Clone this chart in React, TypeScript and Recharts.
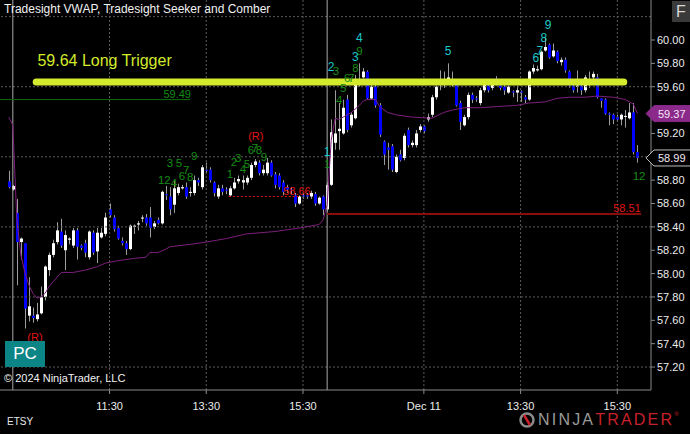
import React from 'react';
import {
  ComposedChart,
  Bar,
  Line,
  Scatter,
  XAxis,
  YAxis,
  ReferenceLine,
  ReferenceDot,
} from 'recharts';

// 5-minute ETSY candles: [open, high, low, close]
type Candle = [number, number, number, number];

const dec9Close: Candle[] = [[58.79, 58.88, 58.73, 58.74]];

const dec10: Candle[] = [
  [58.72, 58.76, 58.71, 58.75], [58.52, 58.64, 57.90, 58.27], [58.27, 58.31, 58.12, 58.30], [58.26, 58.26, 57.53, 57.70],
  [57.64, 57.97, 57.59, 57.72], [57.64, 57.71, 57.58, 57.62], [57.61, 57.75, 57.59, 57.65], [57.66, 57.89, 57.65, 57.80],
  [57.80, 58.07, 57.77, 58.06], [58.03, 58.18, 57.98, 58.16], [58.16, 58.29, 58.14, 58.26], [58.27, 58.44, 58.25, 58.37],
  [58.36, 58.47, 58.22, 58.24], [58.20, 58.37, 58.03, 58.33], [58.29, 58.31, 58.25, 58.30], [58.24, 58.39, 58.22, 58.37],
  [58.37, 58.39, 58.12, 58.23], [58.24, 58.25, 58.20, 58.22], [58.26, 58.29, 58.14, 58.18], [58.14, 58.37, 58.12, 58.36],
  [58.35, 58.37, 58.16, 58.18], [58.19, 58.39, 58.09, 58.35], [58.31, 58.39, 58.30, 58.35], [58.34, 58.52, 58.32, 58.48],
  [58.55, 58.60, 58.48, 58.50], [58.48, 58.50, 58.36, 58.38], [58.39, 58.41, 58.29, 58.30], [58.28, 58.31, 58.24, 58.26],
  [58.26, 58.28, 58.16, 58.21], [58.21, 58.42, 58.20, 58.41], [58.41, 58.42, 58.34, 58.41], [58.42, 58.45, 58.37, 58.43],
  [58.48, 58.50, 58.44, 58.48], [58.48, 58.51, 58.41, 58.43], [58.48, 58.57, 58.31, 58.39], [58.40, 58.45, 58.38, 58.43],
  [58.46, 58.48, 58.42, 58.43], [58.43, 58.71, 58.42, 58.70], [58.68, 58.75, 58.63, 58.67], [58.66, 58.74, 58.50, 58.55],
  [58.59, 58.80, 58.52, 58.73], [58.69, 58.77, 58.67, 58.74], [58.73, 58.76, 58.72, 58.74], [58.74, 58.78, 58.64, 58.66],
  [58.69, 58.74, 58.66, 58.70], [58.69, 58.84, 58.67, 58.80], [58.80, 58.82, 58.75, 58.78], [58.74, 58.93, 58.72, 58.91],
  [58.89, 58.95, 58.86, 58.88], [58.89, 58.91, 58.78, 58.80], [58.78, 58.79, 58.66, 58.69], [58.66, 58.76, 58.64, 58.73],
  [58.73, 58.76, 58.67, 58.70], [58.72, 58.74, 58.68, 58.71], [58.67, 58.75, 58.66, 58.73], [58.73, 58.82, 58.72, 58.78],
  [58.79, 58.84, 58.77, 58.81], [58.78, 58.84, 58.72, 58.80], [58.78, 58.84, 58.76, 58.82], [58.82, 58.95, 58.80, 58.93],
  [58.93, 58.98, 58.91, 58.96], [58.95, 58.97, 58.84, 58.86], [58.86, 58.93, 58.84, 58.89], [58.86, 58.99, 58.84, 58.95],
  [58.95, 58.97, 58.83, 58.84], [58.85, 58.87, 58.73, 58.76], [58.84, 58.86, 58.72, 58.74], [58.78, 58.80, 58.67, 58.70],
  [58.74, 58.76, 58.69, 58.72], [58.72, 58.74, 58.68, 58.71], [58.67, 58.69, 58.57, 58.60], [58.60, 58.67, 58.59, 58.66],
  [58.67, 58.69, 58.64, 58.66], [58.67, 58.69, 58.64, 58.66], [58.66, 58.71, 58.64, 58.69], [58.68, 58.70, 58.58, 58.60],
  [58.60, 58.66, 58.59, 58.65], [58.66, 58.67, 58.50, 58.55],
];

const dec11: Candle[] = [
  [58.55, 58.78, 58.53, 58.76], [58.76, 59.32, 58.75, 59.21], [59.12, 59.57, 59.06, 59.20], [59.22, 59.46, 59.06, 59.24],
  [59.20, 59.49, 59.19, 59.42], [59.49, 59.53, 59.21, 59.23], [59.27, 59.38, 59.25, 59.36], [59.33, 59.70, 59.32, 59.62],
  [59.62, 59.80, 59.60, 59.64], [59.68, 59.76, 59.67, 59.73], [59.73, 59.74, 59.49, 59.50], [59.50, 59.62, 59.49, 59.60],
  [59.60, 59.62, 59.42, 59.44], [59.44, 59.46, 59.17, 59.19], [59.13, 59.14, 58.93, 59.02], [59.08, 59.12, 58.89, 59.06],
  [59.09, 59.11, 58.87, 58.89], [58.87, 59.02, 58.86, 59.00], [59.02, 59.06, 58.96, 58.97], [58.99, 59.20, 58.97, 59.18],
  [59.23, 59.25, 59.08, 59.10], [59.10, 59.14, 59.08, 59.12], [59.10, 59.23, 59.08, 59.20], [59.23, 59.28, 59.21, 59.26],
  [59.26, 59.27, 59.20, 59.22], [59.32, 59.37, 59.30, 59.34], [59.36, 59.53, 59.34, 59.51], [59.51, 59.61, 59.49, 59.60],
  [59.63, 59.74, 59.57, 59.64], [59.64, 59.73, 59.59, 59.63], [59.64, 59.80, 59.62, 59.68], [59.64, 59.73, 59.60, 59.63],
  [59.64, 59.66, 59.43, 59.44], [59.46, 59.48, 59.23, 59.30], [59.27, 59.36, 59.26, 59.34], [59.34, 59.55, 59.32, 59.53],
  [59.53, 59.55, 59.46, 59.49], [59.50, 59.52, 59.47, 59.49], [59.46, 59.59, 59.44, 59.57], [59.57, 59.66, 59.55, 59.63],
  [59.61, 59.66, 59.55, 59.57], [59.59, 59.66, 59.57, 59.63], [59.67, 59.69, 59.61, 59.63], [59.61, 59.63, 59.57, 59.59],
  [59.60, 59.62, 59.53, 59.57], [59.55, 59.61, 59.54, 59.60], [59.56, 59.57, 59.51, 59.55], [59.55, 59.61, 59.47, 59.57],
  [59.56, 59.57, 59.47, 59.55], [59.51, 59.53, 59.46, 59.49], [59.49, 59.74, 59.48, 59.73], [59.73, 59.79, 59.71, 59.76],
  [59.74, 59.78, 59.73, 59.75], [59.75, 59.91, 59.74, 59.90], [59.91, 60.02, 59.90, 59.94], [59.96, 59.97, 59.84, 59.85],
  [59.86, 59.97, 59.85, 59.91], [59.90, 59.91, 59.80, 59.82], [59.81, 59.85, 59.78, 59.83], [59.83, 59.85, 59.72, 59.74],
  [59.73, 59.74, 59.59, 59.61], [59.61, 59.63, 59.55, 59.57], [59.60, 59.74, 59.55, 59.61], [59.61, 59.63, 59.53, 59.57],
  [59.57, 59.70, 59.55, 59.68], [59.63, 59.73, 59.59, 59.65], [59.68, 59.73, 59.66, 59.71], [59.68, 59.71, 59.50, 59.51],
  [59.50, 59.50, 59.42, 59.48], [59.49, 59.50, 59.36, 59.37], [59.37, 59.38, 59.27, 59.36], [59.36, 59.37, 59.28, 59.32],
  [59.34, 59.36, 59.30, 59.32], [59.32, 59.37, 59.27, 59.36], [59.35, 59.40, 59.25, 59.35], [59.33, 59.46, 59.32, 59.38],
  [59.38, 59.46, 59.02, 59.04], [59.04, 59.10, 58.95, 58.99],
];

// Tradesight VWAP read at [bar, price]
const vwapPoints: [number, number][] = [
  [0, 59.34], [1, 59.27], [2, 58.46], [3, 58.16], [4, 58.01], [5, 57.9], [6, 57.83], [7, 57.79], [8, 57.8],
  [9, 57.83], [10, 57.89], [11, 57.93], [12, 57.97], [13, 58.01], [16, 58.01], [19, 58.03], [22, 58.06],
  [24, 58.09], [27, 58.11], [31, 58.13], [34, 58.14], [35, 58.18], [37, 58.18], [39, 58.21], [40, 58.23],
  [45, 58.25], [49, 58.27], [54, 58.3], [59, 58.34], [66, 58.36], [72, 58.39], [77, 58.42], [78, 58.46],
  [79, 58.59], [80, 59.14], [81, 59.33], [82, 59.32], [83, 59.34], [85, 59.38], [87, 59.44], [88, 59.48],
  [89, 59.49], [91, 59.49], [92, 59.43], [94, 59.38], [96, 59.36], [100, 59.34], [105, 59.33], [108, 59.38],
  [110, 59.4], [113, 59.42], [117, 59.42], [121, 59.43], [126, 59.44], [129, 59.46], [133, 59.47], [136, 59.5],
  [139, 59.51], [143, 59.51], [146, 59.52], [150, 59.51], [153, 59.49], [155, 59.45], [156, 59.37],
];

const timeTicks = [25, 49, 73, 103, 127, 151];
const timeLabels = ['11:30', '13:30', '15:30', 'Dec 11', '13:30', '15:30'];
const priceTicks = [57.2, 57.4, 57.6, 57.8, 58.0, 58.2, 58.4, 58.6, 58.8, 59.0, 59.2, 59.4, 59.6, 59.8, 60.0];
const gridPrices = [57.2, 57.8, 58.4, 59.0, 59.6, 60.2];
const sessionStarts = [1, 79];

const longTrigger = 59.64;
const priorVwap = 59.49;
const comberStop = 58.66;
const support = 58.51;

const seekerCounts = [
  { i: 38.6, price: 58.8, text: '12' }, { i: 40.0, price: 58.95, text: '3' }, { i: 42.2, price: 58.95, text: '5' },
  { i: 41.0, price: 58.78, text: '4' }, { i: 43.0, price: 58.84, text: '6' }, { i: 44.0, price: 58.89, text: '7' },
  { i: 45.0, price: 58.83, text: '8' }, { i: 46.0, price: 59.01, text: '9' }, { i: 54.9, price: 58.85, text: '1' },
  { i: 55.9, price: 58.96, text: '2' }, { i: 56.9, price: 58.99, text: '3' }, { i: 58.1, price: 58.9, text: '4' },
  { i: 59.1, price: 58.94, text: '5' }, { i: 60.1, price: 59.06, text: '6' }, { i: 61.1, price: 59.08, text: '7' },
  { i: 62.1, price: 59.06, text: '8' }, { i: 63.3, price: 59.0, text: '9' }, { i: 79.0, price: 58.94, text: '1' },
  { i: 81.2, price: 59.74, text: '3' }, { i: 82.0, price: 59.49, text: '4' }, { i: 83.0, price: 59.59, text: '5' },
  { i: 84.0, price: 59.68, text: '6' }, { i: 85.0, price: 59.68, text: '7' }, { i: 86.0, price: 59.76, text: '8' },
  { i: 87.0, price: 59.91, text: '9' }, { i: 156.4, price: 58.84, text: '12' },
];

const comberCounts = [
  { i: 79.0, price: 59.04, text: '1' }, { i: 80.0, price: 59.77, text: '2' }, { i: 86.0, price: 59.86, text: '3' },
  { i: 87.0, price: 60.02, text: '4' }, { i: 109.0, price: 59.91, text: '5' }, { i: 130.8, price: 59.85, text: '6' },
  { i: 131.8, price: 59.91, text: '7' }, { i: 132.8, price: 60.02, text: '8' }, { i: 133.8, price: 60.13, text: '9' },
];

const redMarks = [
  { i: 61.3, price: 59.18, text: '(R)' },
  { i: 6.5, price: 57.46, text: '(R)' },
  { i: 71.5, price: 58.71, text: comberStop.toFixed(2) },
];

const triggerLabel = [{ i: 7.1, price: 59.83, text: `${longTrigger.toFixed(2)} Long Trigger` }];
const priorVwapLabel = [{ i: 45.2, price: 59.54, text: priorVwap.toFixed(2) }];
const supportLabel = [{ i: 156.8, price: 58.56, text: support.toFixed(2) }];

const candles = [...dec9Close, ...dec10, ...dec11];
const vwapAt = new Map(vwapPoints);
const rows = candles.map(([open, high, low, close], i) => ({
  i,
  open,
  high,
  low,
  close,
  range: [low, high],
  vwap: vwapAt.has(i) ? vwapAt.get(i) : null,
}));

const lastClose = candles[candles.length - 1][3];
const lastVwap = vwapPoints[vwapPoints.length - 1][1];
const tagPrices = [lastClose, lastVwap];

const FONT = '"Liberation Sans", Arial, sans-serif';
const X_MIN = -2.18;
const X_MAX = 159.36;

const CandleShape = (props: any) => {
  const { x, y, width, height, payload } = props;
  const { open, close, high, low } = payload;
  const top = Math.min(y, y + height);
  const h = Math.abs(height);
  const per = high - low > 0 ? h / (high - low) : 0;
  const yOf = (p: number) => top + (high - p) * per;
  const cx = Math.round(x + width / 2);
  const up = close >= open;
  const bTop = yOf(Math.max(open, close));
  const bH = Math.max(1, yOf(Math.min(open, close)) - bTop);
  return (
    <g>
      <line x1={cx + 0.5} x2={cx + 0.5} y1={top} y2={top + h} stroke="#9c9c9c" strokeWidth={1} />
      <rect x={cx - 1} y={bTop} width={3} height={bH} fill={up ? '#ffffff' : '#0000ff'} />
    </g>
  );
};

const textShape = (fill: string, size: number, anchor: 'start' | 'middle' | 'end') => (props: any) => {
  const { cx, cy, payload } = props;
  return (
    <text x={cx} y={cy + size * 0.36} fill={fill} fontSize={size} fontFamily={FONT} textAnchor={anchor}>
      {payload.text}
    </text>
  );
};

const priceTag = (fill: string, border: string, value: number) => (props: any) => {
  const { cx, cy } = props;
  const pts = `${cx - 5},${cy} ${cx + 3},${cy - 8} ${cx + 40},${cy - 8} ${cx + 40},${cy + 8} ${cx + 3},${cy + 8}`;
  return (
    <g>
      <polygon points={pts} fill={fill} stroke={border} strokeWidth={1} />
      <text x={cx + 7} y={cy + 4} fill="#f4e8f4" fontSize={11} fontFamily={FONT}>
        {value.toFixed(2)}
      </text>
    </g>
  );
};

export default function App() {
  return (
    <div style={{ position: 'absolute', left: 0, top: 0, width: 690, height: 434, background: '#000', overflow: 'hidden' }}>
      <ComposedChart width={690} height={434} data={rows} margin={{ top: 0, right: 0, bottom: 0, left: 0 }}>
        <XAxis
          dataKey="i"
          type="number"
          domain={[X_MIN, X_MAX]}
          allowDataOverflow
          ticks={timeTicks}
          tickFormatter={(v) => timeLabels[timeTicks.indexOf(v)] ?? ''}
          height={44}
          tickSize={4}
          tickMargin={8}
          stroke="#8a8a8a"
          tick={{ fill: '#ececec', fontSize: 11, fontFamily: FONT }}
        />
        <YAxis
          orientation="right"
          type="number"
          domain={[57.0034, 60.3425]}
          allowDataOverflow
          ticks={priceTicks}
          tickFormatter={(v) =>
            tagPrices.some((t) => Math.abs(t - Number(v)) < 0.06) ? '' : Number(v).toFixed(2)
          }
          width={39}
          tickSize={4}
          tickMargin={2}
          stroke="#8a8a8a"
          tick={{ fill: '#ececec', fontSize: 11, fontFamily: FONT }}
        />

        {gridPrices.map((p) => (
          <ReferenceLine key={`gy${p}`} y={p} stroke="#5c5c5c" strokeDasharray="2 2" />
        ))}
        {timeTicks.map((t) => (
          <ReferenceLine key={`gx${t}`} x={t} stroke="#5c5c5c" strokeDasharray="2 2" />
        ))}
        {sessionStarts.map((s) => (
          <ReferenceLine key={`s${s}`} x={s} stroke="#a8a8a8" />
        ))}

        <ReferenceLine segment={[{ x: X_MIN, y: priorVwap }, { x: 45.0, y: priorVwap }]} stroke="#0c6a0c" />
        <ReferenceLine
          segment={[{ x: 54.6, y: comberStop }, { x: 72.3, y: comberStop }]}
          stroke="#e01010"
          strokeDasharray="2 2"
        />
        <ReferenceLine segment={[{ x: 79, y: support }, { x: 156.9, y: support }]} stroke="#8a0c0c" strokeWidth={2} />

        <Scatter data={redMarks} dataKey="price" shape={textShape('#e01414', 11, 'middle')} isAnimationActive={false} />
        <Scatter data={priorVwapLabel} dataKey="price" shape={textShape('#138a13', 11, 'end')} isAnimationActive={false} />
        <Scatter data={supportLabel} dataKey="price" shape={textShape('#e01414', 11, 'end')} isAnimationActive={false} />

        <Bar dataKey="range" barSize={3} shape={CandleShape} isAnimationActive={false} />
        <Line
          dataKey="vwap"
          stroke="#7d1f7d"
          strokeWidth={1}
          dot={false}
          activeDot={false}
          connectNulls
          isAnimationActive={false}
        />

        <Scatter data={seekerCounts} dataKey="price" shape={textShape('#168c16', 11.5, 'middle')} isAnimationActive={false} />
        <Scatter data={comberCounts} dataKey="price" shape={textShape('#19c8c8', 12, 'middle')} isAnimationActive={false} />

        <ReferenceLine
          segment={[{ x: 6.8, y: longTrigger }, { x: 152.6, y: longTrigger }]}
          stroke="#d3eb2c"
          strokeWidth={7}
          strokeLinecap="round"
        />
        <Scatter data={triggerLabel} dataKey="price" shape={textShape('#d3eb2c', 16, 'start')} isAnimationActive={false} />

        <ReferenceDot x={X_MAX} y={lastVwap} r={0} ifOverflow="visible" shape={priceTag('#8c2a8c', '#8c2a8c', lastVwap)} />
        <ReferenceDot x={X_MAX} y={lastClose} r={0} ifOverflow="visible" shape={priceTag('#000000', '#bdbdbd', lastClose)} />
      </ComposedChart>

      <div style={{ position: 'absolute', left: 4, top: 2, color: '#f2f2f2', fontSize: 12, fontFamily: FONT }}>
        Tradesight VWAP, Tradesight Seeker and Comber
      </div>
      <div
        style={{
          position: 'absolute', left: 672, top: 1, width: 18, height: 21, background: '#3a3a3a',
          color: '#d8d8d8', fontSize: 16, fontFamily: FONT, textAlign: 'center', lineHeight: '21px',
        }}
      >
        F
      </div>
      <div
        style={{
          position: 'absolute', left: 5, top: 341, width: 40, height: 26, background: '#0b8585',
          color: '#ffffff', fontSize: 17, fontFamily: FONT, textAlign: 'center', lineHeight: '26px',
        }}
      >
        PC
      </div>
      <div style={{ position: 'absolute', left: 4, top: 372, color: '#f2f2f2', fontSize: 11, fontFamily: FONT }}>
        © 2024 NinjaTrader, LLC
      </div>
      <div style={{ position: 'absolute', left: 7, top: 416, color: '#e8e8e8', fontSize: 10, fontFamily: FONT }}>
        ETSY
      </div>
      <div
        style={{
          position: 'absolute', left: 519, top: 411, height: 18, display: 'flex', alignItems: 'center',
          fontFamily: FONT, fontSize: 16, letterSpacing: 2.2,
        }}
      >
        <svg width={16} height={16} style={{ marginRight: 3 }}>
          <circle cx={8} cy={8} r={6.5} fill="none" stroke="#8a8a8a" strokeWidth={2.5} />
          <path d="M5 3 L11 13" stroke="#c8202a" strokeWidth={2.5} />
        </svg>
        <span style={{ color: '#9a9a9a' }}>NINJA</span>
        <span style={{ color: '#c8202a' }}>TRADER</span>
        <span style={{ color: '#c8202a', fontSize: 6, alignSelf: 'flex-start' }}>®</span>
      </div>
    </div>
  );
}
